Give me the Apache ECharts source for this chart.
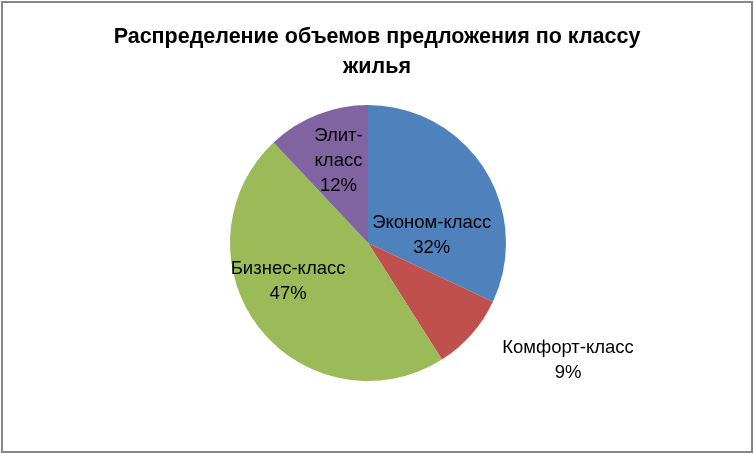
<!DOCTYPE html>
<html>
<head>
<meta charset="utf-8">
<script src="https://cdn.jsdelivr.net/npm/echarts@6/dist/echarts.min.js"></script>
<style>
  html, body { margin: 0; padding: 0; background: #fff; }
  #main { position: absolute; left: 1px; top: 1px; width: 748px; height: 448px; border: 2px solid #868686; }
</style>
</head>
<body>
<div id="main"></div>
<script>
// данные диаграммы
const categories = ['Эконом-класс', 'Комфорт-класс', 'Бизнес-класс', 'Элит-класс']
const labelNames = ['Эконом-класс', 'Комфорт-класс', 'Бизнес-класс', 'Элит-\nкласс']
const values = [32, 9, 47, 12]
const colors = ['#4F81BD', '#C0504D', '#9BBB59', '#8064A2']
// сдвиги подписей относительно стандартного положения
const labelOffsets = [[3, 31], [146, 70], [-23, -6], [-3, -15]]

let myChart = echarts.init(document.getElementById('main'))

let data = categories.map(function (c, i) {
    return {
        name: c,
        value: values[i],
        itemStyle: { color: colors[i] },
        label: { offset: labelOffsets[i] }
    }
})

let option = {
    animation: false,
    title: {
        text: 'Распределение объемов предложения по классу\nжилья',
        left: 'center',
        top: 14,
        textStyle: {
            fontFamily: 'Liberation Sans',
            fontWeight: 'bold',
            fontSize: 21.5,
            lineHeight: 30,
            color: '#000'
        }
    },
    series: [{
        type: 'pie',
        center: [365, 240],
        radius: 138,
        startAngle: 90,
        data: data,
        itemStyle: { borderColor: 'rgba(0,0,0,0)', borderWidth: 0 },
        label: {
            position: 'inside',
            fontFamily: 'Liberation Sans',
            fontSize: 18.5,
            lineHeight: 25,
            color: '#000',
            formatter: function (p) {
                return labelNames[p.dataIndex] + '\n' + p.value + '%'
            }
        },
        labelLine: { show: false },
        emphasis: { disabled: true }
    }]
}
myChart.setOption(option)
</script>
</body>
</html>
